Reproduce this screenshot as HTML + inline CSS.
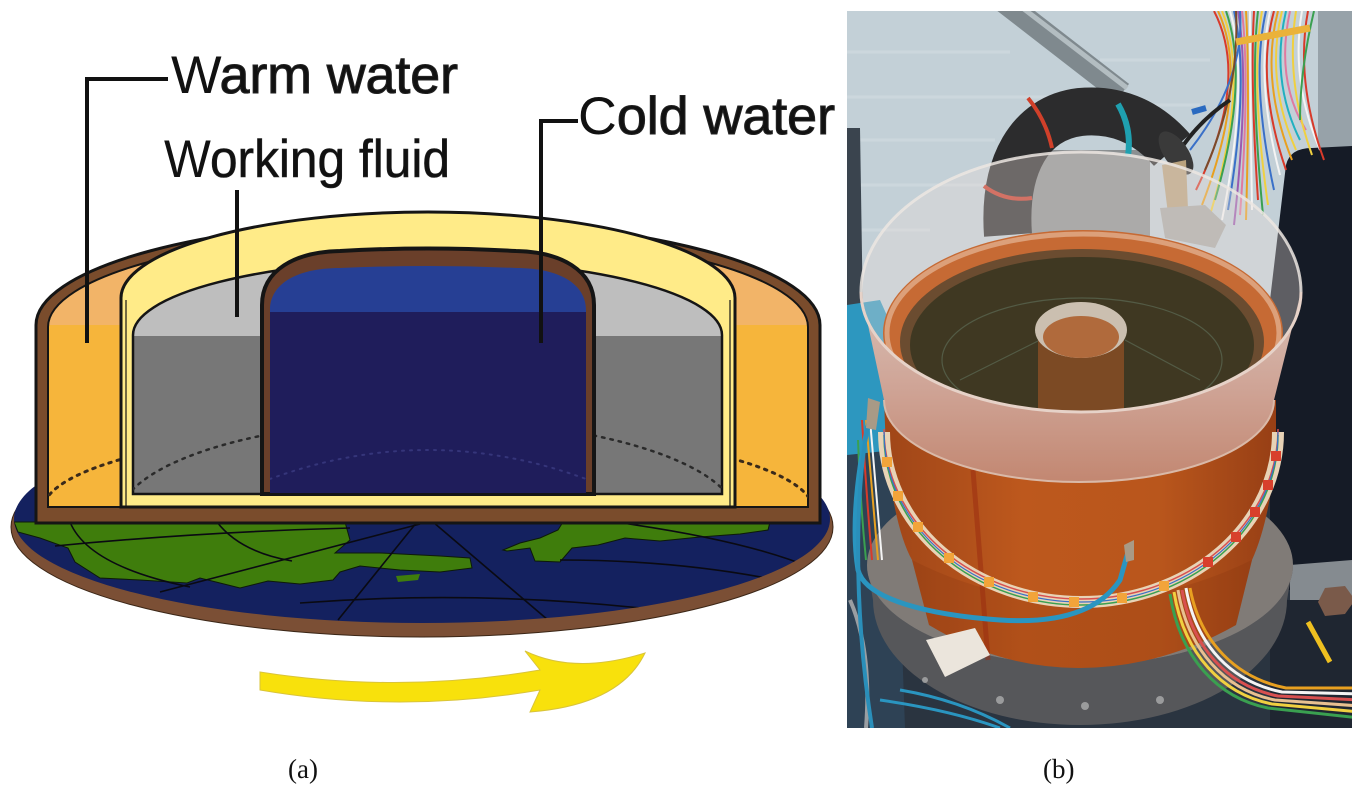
<!DOCTYPE html>
<html><head><meta charset="utf-8">
<style>
html,body{margin:0;padding:0;background:#fff;}
svg{display:block;}
</style></head>
<body>
<svg width="1364" height="797" viewBox="0 0 1364 797" xmlns="http://www.w3.org/2000/svg">
<defs>
  <linearGradient id="gOr" gradientUnits="userSpaceOnUse" x1="0" y1="200" x2="0" y2="520">
    <stop offset="0" stop-color="#F2B468"/><stop offset="0.39" stop-color="#F2B468"/>
    <stop offset="0.39" stop-color="#F6B53B"/><stop offset="1" stop-color="#F6B53B"/>
  </linearGradient>
  <linearGradient id="gGr" gradientUnits="userSpaceOnUse" x1="0" y1="250" x2="0" y2="500">
    <stop offset="0" stop-color="#BEBEBE"/><stop offset="0.344" stop-color="#BEBEBE"/>
    <stop offset="0.344" stop-color="#777777"/><stop offset="1" stop-color="#777777"/>
  </linearGradient>
  <linearGradient id="gBl" gradientUnits="userSpaceOnUse" x1="0" y1="260" x2="0" y2="500">
    <stop offset="0" stop-color="#263F94"/><stop offset="0.2167" stop-color="#263F94"/>
    <stop offset="0.2167" stop-color="#1F1D5B"/><stop offset="1" stop-color="#1F1D5B"/>
  </linearGradient>
  <linearGradient id="gRing" gradientUnits="userSpaceOnUse" x1="0" y1="290" x2="0" y2="485">
    <stop offset="0" stop-color="#d8c0b6"/><stop offset="0.5" stop-color="#cfa496"/><stop offset="1" stop-color="#c28670"/>
  </linearGradient>
  <linearGradient id="gBody" gradientUnits="userSpaceOnUse" x1="886" y1="0" x2="1276" y2="0">
    <stop offset="0" stop-color="#a04618"/><stop offset="0.35" stop-color="#bd581d"/>
    <stop offset="0.7" stop-color="#b9561c"/><stop offset="1" stop-color="#973f15"/>
  </linearGradient>
  <clipPath id="earthClip"><ellipse cx="422" cy="519" rx="408" ry="104"/></clipPath>
  <clipPath id="orClip"><path d="M48,507 L48,327 A380,96 0 0 1 808,327 L808,507 Z"/></clipPath>
  <clipPath id="grClip"><path d="M133,494 L133,335 A294.5,75 0 0 1 722,335 L722,494 Z"/></clipPath>
  <clipPath id="blClip"><path d="M270,494 L270,310 C270,285 295,268 340,268 Q428,264 516,268 C561,268 586,285 586,310 L586,494 Z"/></clipPath>
  <clipPath id="ph"><rect x="847" y="11" width="505" height="717"/></clipPath>
</defs>

<rect width="1364" height="797" fill="#ffffff"/>

<!-- ===== (a) DIAGRAM ===== -->
<ellipse cx="422" cy="527" rx="411" ry="110" fill="#7b4f35" stroke="#3b2616" stroke-width="1"/>
<ellipse cx="422" cy="519" rx="408" ry="104" fill="#14215f"/>
<g clip-path="url(#earthClip)">
  <path d="M14,522 L345,522 L350,540 L335,553 L380,553 L440,556 L470,558 L472,568 L440,572 L400,570 L360,566 L340,572 L333,580 L300,584 L268,581 L240,588 L220,583 L200,578 L187,583 L140,580 L100,578 L75,562 L68,548 L40,538 L18,532 Z" fill="#3f7d0c" stroke="#0d1a08" stroke-width="1"/>
  <path d="M503,550 L520,543 L540,538 L558,530 L563,522 L770,522 L768,530 L740,534 L700,537 L660,541 L625,538 L598,545 L572,548 L560,562 L535,561 L530,548 L507,551 Z" fill="#3f7d0c" stroke="#0d1a08" stroke-width="1"/>
  <path d="M396,576 L420,574 L418,580 L398,582 Z" fill="#3f7d0c"/>
  <g fill="none" stroke="#0a0a12" stroke-width="1.6">
    <path d="M55,546 Q200,532 350,528"/>
    <path d="M70,522 Q88,566 190,587"/>
    <path d="M217,522 Q240,552 292,561"/>
    <path d="M160,592 L420,524"/>
    <path d="M417,522 L338,620"/>
    <path d="M433,522 L548,620"/>
    <path d="M615,522 Q745,540 812,568"/>
    <path d="M300,603 Q470,590 640,608"/>
    <path d="M560,560 Q690,560 800,585"/>
  </g>
</g>

<path d="M36,523 L36,325 A392,105 0 0 1 820,325 L820,523 Z" fill="#7a4c2c" stroke="#151515" stroke-width="3"/>
<path d="M48,507 L48,327 A380,96 0 0 1 808,327 L808,507 Z" fill="url(#gOr)" stroke="#151515" stroke-width="2"/>
<g clip-path="url(#orClip)">
  <path d="M43,510 A385,84 0 0 1 813,510" fill="none" stroke="#3a2a1a" stroke-width="3" stroke-dasharray="2.5 6" stroke-linecap="round"/>
</g>
<path d="M121,507 L121,298 A307,86 0 0 1 735,298 L735,507 Z" fill="#FFEB88" stroke="#151515" stroke-width="3"/>
<line x1="126" y1="300" x2="126" y2="507" stroke="#151515" stroke-width="1.2"/>
<line x1="730" y1="300" x2="730" y2="507" stroke="#151515" stroke-width="1.2"/>
<path d="M133,494 L133,335 A294.5,75 0 0 1 722,335 L722,494 Z" fill="url(#gGr)" stroke="#151515" stroke-width="2.5"/>
<g clip-path="url(#grClip)">
  <path d="M118,520 A310,100 0 0 1 738,520" fill="none" stroke="#2a2a2a" stroke-width="2.5" stroke-dasharray="2.5 6" stroke-linecap="round"/>
</g>
<path d="M262,494 L262,305 C262,270 295,252 340,251 Q428,246 516,251 C561,252 594,270 594,305 L594,494 Z" fill="#6a3f2a" stroke="#151515" stroke-width="4"/>
<path d="M270,494 L270,310 C270,285 295,268 340,268 Q428,264 516,268 C561,268 586,285 586,310 L586,494 Z" fill="url(#gBl)"/>
<g clip-path="url(#blClip)">
  <path d="M262,482 Q428,418 594,482" fill="none" stroke="#35357a" stroke-width="2" stroke-dasharray="2 6" stroke-linecap="round"/>
</g>
<line x1="262" y1="494" x2="594" y2="494" stroke="#151515" stroke-width="2"/>

<g fill="none" stroke="#111" stroke-width="4">
  <path d="M168,79 L87,79 L87,343"/>
  <path d="M237,190 L237,317"/>
  <path d="M578,121 L541,121 L541,343"/>
</g>

<g font-family="'Liberation Sans', Arial, sans-serif" font-size="53" fill="#111">
  <text x="171" y="93" textLength="287" lengthAdjust="spacingAndGlyphs">W<tspan stroke="#222" stroke-width="1.1">arm water</tspan></text>
  <text x="164" y="177" textLength="286" lengthAdjust="spacingAndGlyphs">W<tspan stroke="#222" stroke-width="0.6">orking fluid</tspan></text>
  <text x="578" y="134" textLength="257" lengthAdjust="spacingAndGlyphs">C<tspan stroke="#222" stroke-width="1.1">old water</tspan></text>
</g>

<path d="M260,672 Q400,694 540,670 L525,651 Q575,675 645,653 Q620,705 530,712 L540,690 Q400,714 260,690 Z" fill="#F8E10C" stroke="#d9c43a" stroke-width="1"/>

<g font-family="'Liberation Serif', 'Times New Roman', serif" font-size="27" fill="#111">
  <text x="288" y="778">(a)</text>
  <text x="1043" y="778">(b)</text>
</g>

<!-- ===== (b) PHOTO ===== -->
<g clip-path="url(#ph)">
  <rect x="847" y="11" width="505" height="717" fill="#c3d0d7"/>
  <rect x="847" y="445" width="505" height="283" fill="#2a3440"/>
  <g stroke="#d3dde2" stroke-width="3" opacity="0.6">
    <line x1="847" y1="52" x2="1010" y2="52"/>
    <line x1="847" y1="97" x2="1060" y2="97"/>
    <line x1="847" y1="140" x2="995" y2="140"/>
    <line x1="847" y1="185" x2="985" y2="185"/>
    <line x1="847" y1="230" x2="930" y2="230"/>
    <line x1="1100" y1="60" x2="1210" y2="60"/>
    <line x1="1130" y1="105" x2="1200" y2="105"/>
  </g>
  <path d="M847,128 L860,128 L863,320 L847,320 Z" fill="#3a444e"/>
  <path d="M847,305 L880,300 L898,340 L900,420 L890,455 L847,460 Z" fill="#2d97bf"/>
  <path d="M847,455 L895,450 L905,728 L847,728 Z" fill="#2e4255"/>
  <rect x="1318" y="11" width="34" height="150" fill="#97a2a9"/>
  <path d="M1286,165 Q1290,148 1312,148 L1352,146 L1352,590 L1270,590 L1270,300 Z" fill="#151b26"/>
  <path d="M1290,565 L1352,560 L1352,602 L1290,606 Z" fill="#858b90"/>
  <rect x="1270" y="600" width="82" height="128" fill="#1f2631"/>
  <polygon points="1325,588 1345,586 1355,600 1345,614 1325,616 1318,602" fill="#7a5a4a"/>
  <line x1="1308" y1="622" x2="1330" y2="662" stroke="#efc020" stroke-width="5"/>

  <line x1="1002" y1="0" x2="1122" y2="93" stroke="#7f898e" stroke-width="23"/>
  <line x1="1007" y1="-4" x2="1127" y2="88" stroke="#b3bdc1" stroke-width="5"/>

  <g fill="none" stroke-width="2">
    <path d="M1214,11 Q1250,80 1196,190" stroke="#d83a2a"/>
    <path d="M1218,11 Q1250,80 1202,205" stroke="#e8a020"/>
    <path d="M1222,11 Q1250,80 1210,215" stroke="#f0d040"/>
    <path d="M1226,11 Q1250,80 1215,200" stroke="#3aa050"/>
    <path d="M1230,11 Q1250,80 1222,220" stroke="#f4f4f4"/>
    <path d="M1234,11 Q1250,80 1228,210" stroke="#3a70c8"/>
    <path d="M1238,11 Q1250,80 1234,225" stroke="#9a5ab0"/>
    <path d="M1242,11 Q1250,80 1240,215" stroke="#e07aa0"/>
    <path d="M1246,11 Q1250,80 1246,220" stroke="#e8a020"/>
    <path d="M1250,11 Q1250,80 1252,210" stroke="#f4f4f4"/>
    <path d="M1254,11 Q1250,80 1258,200" stroke="#d83a2a"/>
    <path d="M1258,11 Q1250,80 1263,215" stroke="#3aa050"/>
    <path d="M1262,11 Q1250,80 1268,205" stroke="#f0d040"/>
    <path d="M1266,11 Q1250,80 1274,190" stroke="#3a70c8"/>
    <path d="M1270,11 Q1255,80 1280,175" stroke="#f4f4f4"/>
    <path d="M1274,11 Q1255,80 1286,170" stroke="#d83a2a"/>
    <path d="M1278,11 Q1260,80 1292,160" stroke="#e8a020"/>
    <path d="M1282,11 Q1265,80 1296,150" stroke="#f0d040"/>
    <path d="M1286,11 Q1270,80 1300,140" stroke="#20b0c0"/>
    <path d="M1290,11 Q1275,80 1306,130" stroke="#e07aa0"/>
    <path d="M1296,11 Q1285,80 1312,155" stroke="#f0d040"/>
    <path d="M1302,11 Q1290,80 1320,150" stroke="#f4f4f4"/>
    <path d="M1308,11 Q1295,80 1324,160" stroke="#d83a2a"/>
    <path d="M1314,11 Q1300,70 1300,120" stroke="#3aa050"/>
    <path d="M1240,11 Q1245,80 1190,150" stroke="#3a70c8"/>
    <path d="M1236,11 Q1240,90 1205,170" stroke="#7a4a2a"/>
  </g>
  <line x1="1236" y1="42" x2="1310" y2="28" stroke="#eab23a" stroke-width="7"/>
  <line x1="1192" y1="112" x2="1206" y2="108" stroke="#2a6ac0" stroke-width="6"/>
  <path d="M1180,150 Q1200,120 1230,100" fill="none" stroke="#222" stroke-width="4"/>

  <rect x="1030" y="150" width="120" height="95" fill="#8b8f91"/>
  <path d="M1008,235 C1003,165 1030,118 1080,112 C1120,108 1150,125 1172,150" fill="none" stroke="#2c2c2d" stroke-width="48"/>
  <path d="M1028,98 Q1046,120 1052,148" fill="none" stroke="#d0402a" stroke-width="4"/>
  <path d="M984,186 Q1005,202 1032,198" fill="none" stroke="#c83a28" stroke-width="4"/>
  <path d="M1118,104 Q1132,128 1128,156" fill="none" stroke="#1fa0b0" stroke-width="6"/>
  <ellipse cx="1176" cy="153" rx="12" ry="25" transform="rotate(-35 1176 153)" fill="#3a3a3a"/>
  <path d="M1162,165 L1186,160 L1188,210 L1168,214 Z" fill="#b9a27e"/>
  <path d="M1160,208 L1205,205 L1226,225 L1215,248 L1165,238 Z" fill="#a9a9a7"/>

  <path d="M861,292 A220,140 0 0 1 1301,292 A220,120 0 0 1 861,292 Z" fill="#e8dcd6" opacity="0.35"/>

  <path d="M867,565 A213,100 0 0 0 1293,565 L1287,600 A207,125 0 0 1 873,600 Z" fill="#56575a"/>
  <ellipse cx="1080" cy="565" rx="213" ry="100" fill="#807b77"/>
  <g fill="#b8b8b8" opacity="0.7">
    <circle cx="1000" cy="700" r="4"/><circle cx="1085" cy="706" r="4"/><circle cx="1160" cy="700" r="4"/><circle cx="925" cy="680" r="3"/>
  </g>

  <path d="M884,400 L886,450 Q895,530 912,560 L929,625 Q1000,668 1079,668 Q1160,668 1236,625 L1252,560 Q1270,520 1276,450 L1276,400 Z" fill="url(#gBody)"/>
  <path d="M912,560 L929,625 Q1000,668 1079,668 Q1160,668 1236,625 L1252,560 Q1170,600 1080,602 Q990,600 912,560 Z" fill="#7a2e0c" opacity="0.18"/>
  <line x1="973" y1="470" x2="988" y2="660" stroke="#9a2a10" stroke-width="5" opacity="0.5"/>

  <ellipse cx="1083" cy="333" rx="200" ry="103" fill="#c66a34"/>
  <ellipse cx="1083" cy="333" rx="196" ry="99" fill="none" stroke="#dca07a" stroke-width="5"/>
  <ellipse cx="1082" cy="342" rx="182" ry="93" fill="#6b4c30"/>
  <ellipse cx="1082" cy="345" rx="172" ry="88" fill="#3f3822"/>
  <g fill="none" stroke="#5c6a55" stroke-width="1.2" opacity="0.7">
    <ellipse cx="1082" cy="360" rx="140" ry="62"/>
    <path d="M960,380 L1040,340"/><path d="M1200,380 L1125,340"/><path d="M1082,430 L1082,390"/>
  </g>
  <rect x="1038" y="332" width="86" height="85" fill="#7c4a24"/>
  <ellipse cx="1081" cy="330" rx="46" ry="28" fill="#cbbfb0"/>
  <ellipse cx="1081" cy="337" rx="38" ry="21" fill="#b06a3c"/>

  <path d="M861,292 A220,120 0 0 0 1301,292 L1274,400 A195,82 0 0 1 884,400 Z" fill="url(#gRing)"/>
  <path d="M861,292 A220,120 0 0 0 1301,292" fill="none" stroke="#e6d2c8" stroke-width="3"/>
  <path d="M861,292 A220,140 0 0 1 1301,292" fill="none" stroke="#ece6e2" stroke-width="3" opacity="0.85"/>
  <path d="M1274,400 A195,82 0 0 1 884,400" fill="none" stroke="#d9b9a8" stroke-width="2"/>

  <path d="M1278,432 A197,170 0 0 1 884,432" fill="none" stroke="#e8d3b6" stroke-width="12"/>
  <path d="M1278,432 A197,170 0 0 1 884,432" fill="none" stroke="#d85050" stroke-width="1.5" transform="translate(0,-3)"/>
  <path d="M1278,432 A197,170 0 0 1 884,432" fill="none" stroke="#3aa050" stroke-width="1.5" transform="translate(0,3)"/>
  <path d="M1278,432 A197,170 0 0 1 884,432" fill="none" stroke="#3a70c8" stroke-width="1.2"/>
  <g>
    <rect x="1271" y="451" width="10" height="10" fill="#d8402c"/>
    <rect x="1263" y="480" width="10" height="10" fill="#d8402c"/>
    <rect x="1250" y="507" width="10" height="10" fill="#d8402c"/>
    <rect x="1231" y="532" width="10" height="10" fill="#d8402c"/>
    <rect x="1203" y="557" width="10" height="10" fill="#d8402c"/>
    <rect x="1159" y="581" width="10" height="10" fill="#f2a43a"/>
    <rect x="1117" y="593" width="10" height="10" fill="#f2a43a"/>
    <rect x="1069" y="597" width="10" height="10" fill="#f2a43a"/>
    <rect x="1028" y="592" width="10" height="10" fill="#f2a43a"/>
    <rect x="984" y="577" width="10" height="10" fill="#f2a43a"/>
    <rect x="944" y="553" width="10" height="10" fill="#f2a43a"/>
    <rect x="913" y="522" width="10" height="10" fill="#f2a43a"/>
    <rect x="893" y="491" width="10" height="10" fill="#f2a43a"/>
    <rect x="882" y="457" width="10" height="10" fill="#f2a43a"/>
  </g>

  <g fill="none" stroke-width="2">
    <path d="M866,420 Q872,490 878,560" stroke="#e8a020"/>
    <path d="M870,420 Q876,490 882,560" stroke="#f4f4f4"/>
    <path d="M862,420 Q866,490 872,560" stroke="#d83a2a"/>
    <path d="M858,440 Q860,500 866,560" stroke="#3aa050"/>
  </g>
  <path d="M850,600 Q872,650 866,728" fill="none" stroke="#9a9ea2" stroke-width="4"/>

  <path d="M873,410 C860,450 850,520 858,570 C866,600 930,615 1000,620 C1060,624 1100,610 1120,580 L1130,545" fill="none" stroke="#2a95c0" stroke-width="5"/>
  <path d="M872,408 C855,470 852,600 872,728" fill="none" stroke="#2a8fba" stroke-width="4"/>
  <path d="M868,398 L880,402 L876,430 L866,428 Z" fill="#a89a86"/>
  <path d="M1124,545 L1134,540 L1134,560 L1126,562 Z" fill="#a89a86"/>

  <polygon points="926,640 975,628 990,655 945,677" fill="#ebe5dc"/>

  <g fill="none" stroke-width="3">
    <path d="M1178,590 C1188,650 1225,690 1275,700 L1360,706" stroke="#e8c090"/>
    <path d="M1182,590 C1192,648 1228,686 1278,696 L1360,700" stroke="#d85050"/>
    <path d="M1174,592 C1184,654 1222,694 1272,704 L1360,712" stroke="#f0d040"/>
    <path d="M1186,588 C1196,646 1232,682 1282,692 L1360,694" stroke="#f4f4f4"/>
    <path d="M1170,594 C1180,658 1218,698 1268,708 L1360,718" stroke="#3aa050"/>
    <path d="M1190,588 C1200,642 1236,678 1286,688 L1360,688" stroke="#e8a020"/>
  </g>
  <path d="M880,700 Q950,710 1000,728" fill="none" stroke="#2a95c0" stroke-width="3"/>
  <path d="M900,690 Q960,700 1010,728" fill="none" stroke="#2a95c0" stroke-width="3"/>
</g>
</svg>
</body></html>
